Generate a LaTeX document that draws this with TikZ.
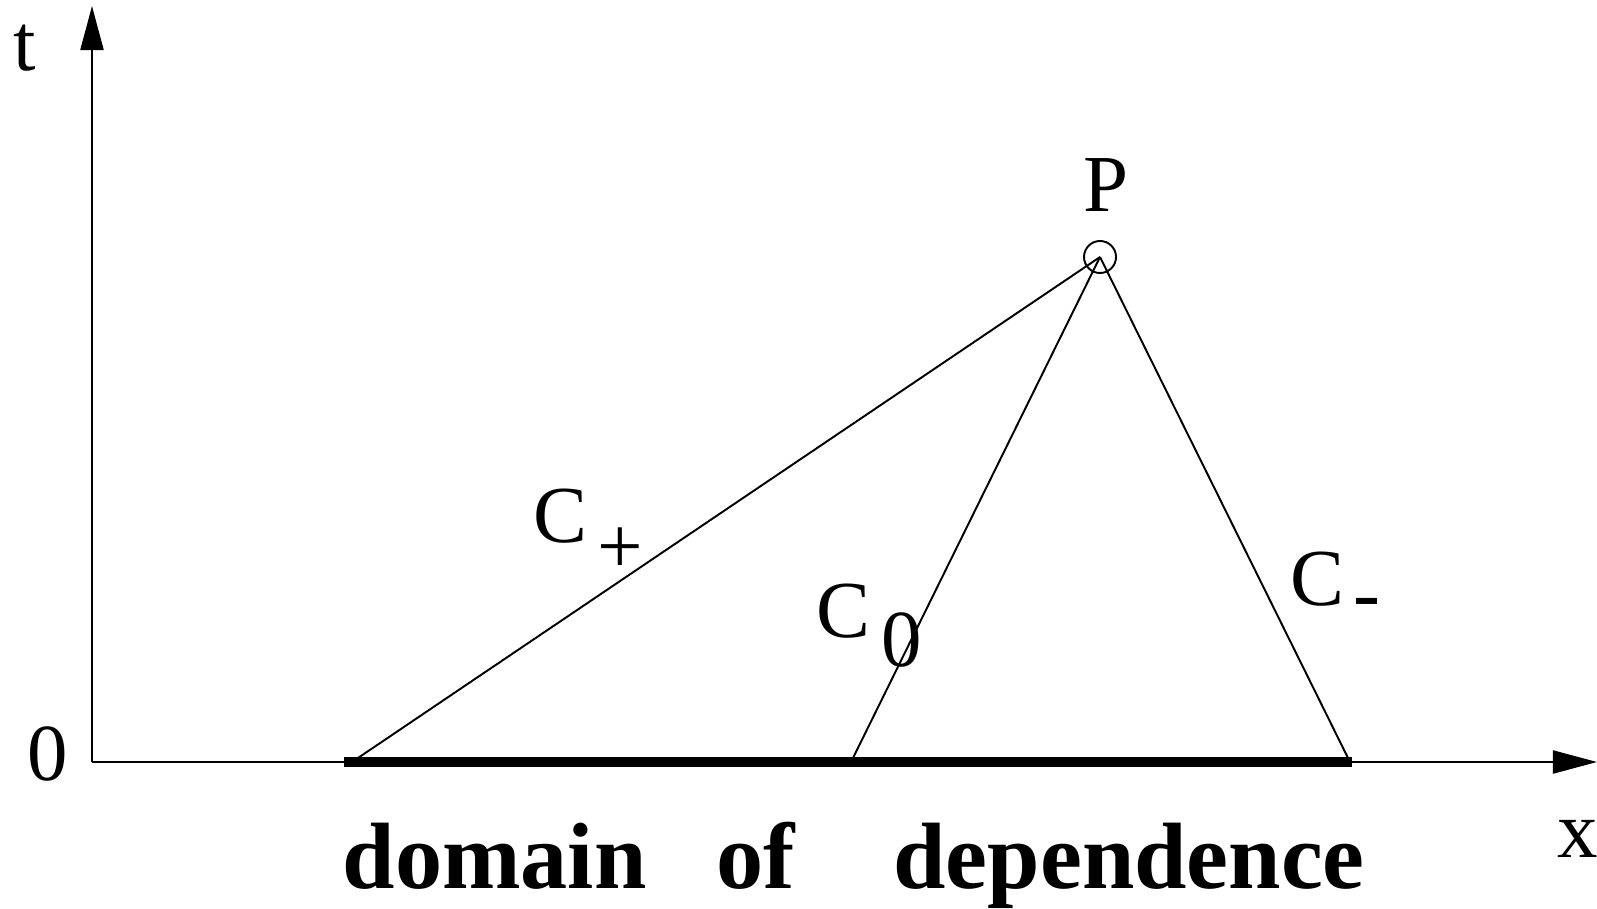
\documentclass[tikz,border=0pt]{standalone}
\usepackage{fontspec}
\setmainfont{Liberation Serif}
\usetikzlibrary{arrows.meta}
\begin{document}
\begin{tikzpicture}[x=0.01cm, y=0.01cm, line join=round, >={Triangle[length=0.44cm,width=0.23cm]},
	lbl/.style={inner sep=0pt, font=\fontsize{23}{28}\selectfont}]
	\useasboundingbox (-92,-146) rectangle (1505,762);
	\def\xp{1505} \def\yt{756}
	\coordinate (O) at (0,0);
	\coordinate (T) at (0,\yt);
	\coordinate (X) at (\xp,0);
	\coordinate (P) at (1008,505);
	\coordinate (A) at (260,0);
	\coordinate (Z) at (759,0);
	\coordinate (B) at (1258,0);
	\coordinate (L) at (252,0);
	\coordinate (R) at (1260,0);
	\draw[line width=0.6pt,->] (O)--(T);
	\draw[line width=0.6pt,->] (O)--(X);
	\draw[line width=3.1pt] (L)--(R);
	\foreach \f in {A,Z,B} \draw[line width=0.55pt] (\f)--(P);
	\node[circle, draw, line width=0.55pt, minimum size=0.32cm, inner sep=0pt] (Pc) at (P) {};
	\foreach \p/\n/\t in {(-67.5,692)/tlab/t, (-44,-18)/olab/0, (1486,-95)/xlab/x, (1014,551)/plab/P}
		\node[lbl, anchor=base] (\n) at \p {\t};
	\node[lbl, anchor=base west] (cplus) at (441,220) {C\hspace{0.12em}\raisebox{-0.39em}{+}};
	\node[lbl, anchor=base west] (czero) at (724,125) {C\hspace{0.14em}\raisebox{-0.37em}{0}};
	\node[lbl, anchor=base west] (cminus) at (1198,157) {C\hspace{0.11em}\raisebox{-0.19em}{-}};
	\node[inner sep=0pt, anchor=base west, font=\fontsize{26.8}{32}\selectfont\bfseries] (dod) at (250,-126) {domain\hspace{0.74em}of\hspace{1.05em}dependence};
\end{tikzpicture}
\end{document}
